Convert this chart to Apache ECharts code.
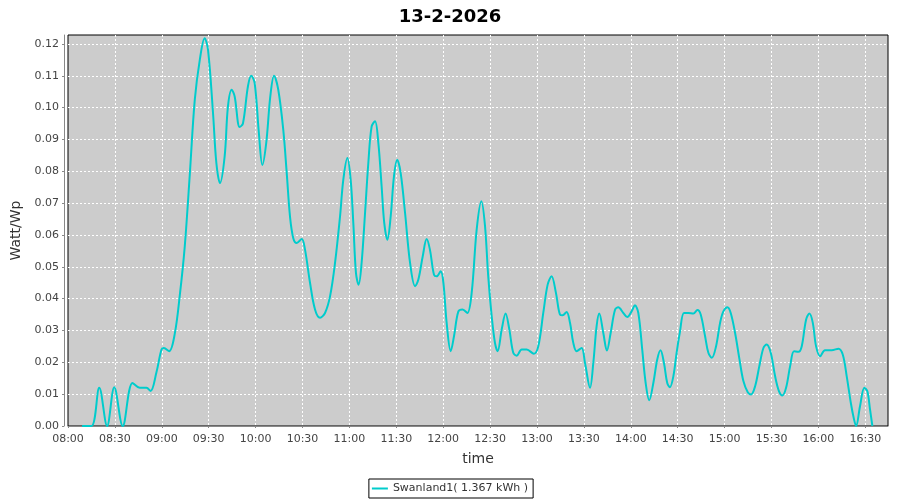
<!DOCTYPE html>
<html><head><meta charset="utf-8">
<script src="https://cdn.jsdelivr.net/npm/echarts@6/dist/echarts.min.js"></script>
<style>html,body{margin:0;padding:0;background:#fff}#c{width:900px;height:500px}</style>
</head><body><div id="c"></div>
<script>
const titleText = "13-2-2026";
const seriesName = "Swanland1( 1.367 kWh )";
const dayStartMin = 480; // 08:00
// minutes after 08:00
const minutesAfterStart = [
 9,15,20,25,29.6,35,41.3,46,50.2,52.8,56.5,59.8,61.3,64.7,68.3,71.5,74.7,77.9,81.1,84.3,
 87.4,89.6,92.8,94.9,97.2,100.2,102.3,104.7,106.6,109.8,111.9,115.1,117.2,119.4,122.1,124.3,126.8,129.4,131.8,134.5,
 137.7,139.9,142,144.1,146.3,149.5,151.6,154.8,158,161.2,164.4,167.6,170.8,174,176.1,178.7,180.8,182.5,184.2,185.9,
 187.8,190,192.1,194.2,196.4,198.5,200.6,202.3,204.3,206.4,208.5,210.6,212.8,215.6,218.8,222,224.1,226.9,229.4,231.5,
 234.1,235.8,238.4,240.1,242.2,244.8,246.9,249.7,252.4,255.4,258.2,261.4,264.4,266.7,268.8,271,273.1,274.8,277.4,279.9,
 282.3,284.8,287,290.2,293.4,298,300.8,304,306.8,309.3,312.1,314.7,316.4,318.9,321.1,323.2,325.3,328.5,330.7,333.9,
 336,338.1,339.8,342.4,344.7,347.1,349.9,352,355.2,357.7,360.5,362.6,364.8,367.3,369.5,371.8,374.4,376.9,379,381.2,
 383.3,385,387.2,389.3,391.4,394,396.8,400,402.6,404.7,407.5,409.6,411.8,414.5,417.1,419.2,421.8,423.9,426.7,429.5,
 432,434.8,436.9,439.5,442.2,444.8,446.9,449.5,452.3,454.8,457,459.3,461.9,464.4,467.2,469.3,472.1,474.2,476.4,478.5,
 481.1,484.2,488.5,492.8,495.6,498.1,500.7,502.8,504.1,506.6,509.4,511.3,513,514.5
];
const wattPerWp = [
 0,0,0.012,0,0.0122,0,0.0135,0.012,0.012,0.011,0.0167,0.024,0.0245,0.0235,0.029,0.041,0.0565,0.079,0.1025,0.115,
 0.1218,0.118,0.098,0.0826,0.0763,0.0847,0.1003,0.1056,0.1035,0.0939,0.095,0.1067,0.110,0.1077,0.092,0.082,0.0889,0.1035,0.110,0.1056,
 0.093,0.0795,0.0658,0.059,0.0575,0.0587,0.0554,0.045,0.0366,0.034,0.0355,0.0407,0.0512,0.0658,0.0774,0.0842,0.0774,0.0637,0.048,0.0444,
 0.0512,0.0669,0.0826,0.094,0.0957,0.0889,0.0753,0.0637,0.0585,0.0658,0.0784,0.0836,0.0794,0.0669,0.0512,0.0439,0.046,0.0533,0.0587,0.0554,
 0.0475,0.047,0.0486,0.045,0.0324,0.0235,0.0282,0.036,0.0366,0.0355,0.0418,0.0617,0.0706,0.063,0.047,0.0345,0.0261,0.0235,0.0303,0.0353,
 0.0303,0.023,0.0221,0.024,0.024,0.0227,0.025,0.0355,0.0444,0.047,0.0418,0.035,0.0348,0.0358,0.0324,0.0261,0.0235,0.0245,0.0198,0.012,
 0.0198,0.0313,0.0353,0.0292,0.0237,0.0292,0.0365,0.0373,0.0355,0.0342,0.036,0.0379,0.0355,0.024,0.0135,0.0081,0.0135,0.0209,0.0238,0.0198,
 0.0135,0.0122,0.0156,0.023,0.0295,0.0355,0.0355,0.0353,0.0364,0.035,0.0282,0.023,0.0214,0.025,0.0324,0.036,0.0373,0.0355,0.0292,0.0209,
 0.0141,0.0106,0.0099,0.0125,0.0188,0.0245,0.0256,0.023,0.0156,0.0109,0.0096,0.012,0.0188,0.0235,0.0233,0.025,0.0334,0.0353,0.0324,0.025,
 0.0219,0.0238,0.0238,0.0243,0.0224,0.0156,0.0073,0.002,0,0.0062,0.012,0.0109,0.0052,0
];
const xMin = 480, xMax = 1004.5, xStep = 30;
const yMin = 0, yMax = 0.1228, yStep = 0.01;

const points = minutesAfterStart.map((m, i) => [dayStartMin + m, wattPerWp[i]]);
function hhmm(v){ const h = Math.floor(v/60), m = Math.round(v%60); return String(h).padStart(2,'0')+':'+String(m).padStart(2,'0'); }

const chart = echarts.init(document.getElementById('c'), null, {renderer:'canvas'});
const font = 'DejaVu Sans';
chart.setOption({
  animation:false,
  backgroundColor:'#ffffff',
  title:{text:titleText,left:'center',top:3,textStyle:{fontFamily:font,fontSize:18,fontWeight:'bold',color:'#000'}},
  grid:{left:68,right:12,top:35,bottom:74,show:true,backgroundColor:'#cccccc',borderColor:'#000',borderWidth:1},
  legend:{bottom:2,left:'center',data:[seriesName],icon:'rect',itemWidth:16,itemHeight:2,itemGap:4,
    borderColor:'#000',borderWidth:1,padding:[4,5,4,3],textStyle:{fontFamily:font,fontSize:11,color:'#333'}},
  xAxis:{type:'value',min:xMin,max:xMax,interval:xStep,offset:4,
    name:'time',nameLocation:'middle',nameGap:22,nameTextStyle:{fontFamily:font,fontSize:14,color:'#333'},
    axisLine:{show:true,lineStyle:{color:'#888',width:1}},
    axisTick:{show:true,length:2,lineStyle:{color:'#888'}},
    axisLabel:{fontFamily:font,fontSize:11,color:'#444',margin:4,showMaxLabel:false,formatter:v=>hhmm(v)},
    splitLine:{show:true,showMinLine:false,showMaxLine:false,lineStyle:{color:'#ffffff',type:[2,2],width:1}}},
  yAxis:{type:'value',min:yMin,max:yMax,interval:yStep,offset:4,
    name:'Watt/Wp',nameLocation:'middle',nameGap:34,nameTextStyle:{fontFamily:font,fontSize:14,color:'#333'},
    axisLine:{show:true,lineStyle:{color:'#888',width:1}},
    axisTick:{show:true,length:2,lineStyle:{color:'#888'}},
    axisLabel:{fontFamily:font,fontSize:11,color:'#444',margin:5,showMaxLabel:false,formatter:v=>v.toFixed(2)},
    splitLine:{show:true,showMinLine:false,showMaxLine:false,lineStyle:{color:'#ffffff',type:[2,2],width:1}}},
  series:[{name:seriesName,type:'line',data:points,smooth:0.35,showSymbol:false,
    lineStyle:{color:'#00cccc',width:2},itemStyle:{color:'#00cccc'},clip:true}]
});
</script></body></html>
